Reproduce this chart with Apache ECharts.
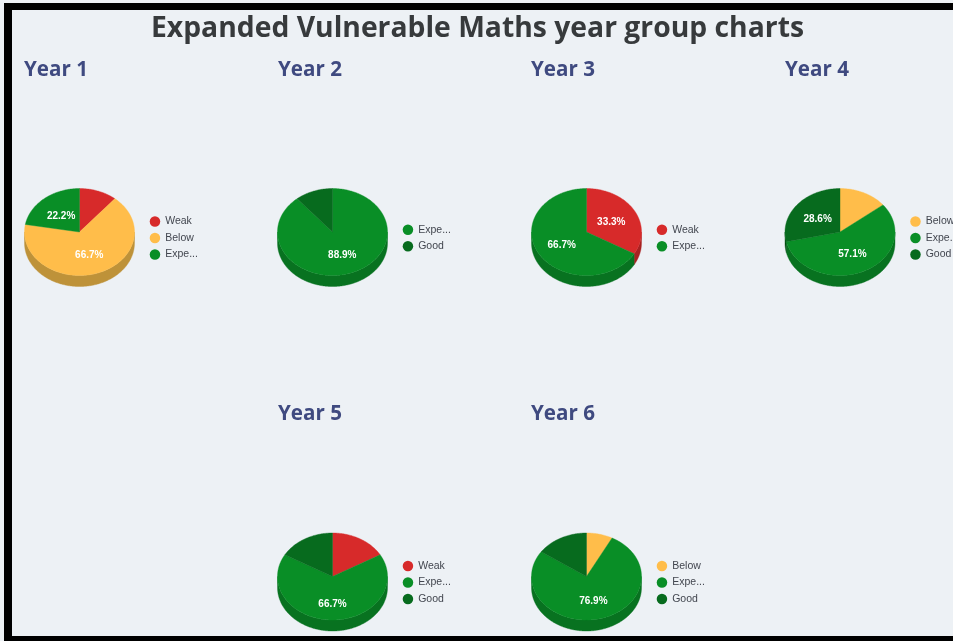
<!DOCTYPE html>
<html>
<head>
<meta charset="utf-8">
<title>Expanded Vulnerable Maths year group charts</title>
<script src="https://cdn.jsdelivr.net/npm/echarts@6/dist/echarts.min.js"></script>
<style>
html,body{margin:0;padding:0;width:953px;height:641px;overflow:hidden;background:#f4f4f4;}
#echartMain{position:absolute;left:0;top:0;width:953px;height:641px;}
#frame{position:absolute;left:4px;top:3px;width:960px;height:638px;box-sizing:border-box;
    border-style:solid;border-color:#000;border-width:7px 0 5px 8px;pointer-events:none;}
</style>
</head>
<body>
<div id="echartMain"></div>
<div id="frame"></div>
<script>
var chartTitle='Expanded Vulnerable Maths year group charts';
var years=['Year 1','Year 2','Year 3','Year 4','Year 5','Year 6'];
var levels=['Weak','Below','Expected','Good'];

// pupils per year group
var weak=[1,0,3,0,1,0];
var below=[6,0,0,1,0,1];
var expected=[2,8,6,4,4,10];
var good=[0,1,0,2,1,2];
var levelValues=[weak,below,expected,good];
var levelColors=['#D72A2A','#FFBD4A','#098E26','#076B1E'];
var wallColors=['#A82121','#BE9239','#087220','#055617'];

var minLabelPercent=20;

// where each year's pie goes
var pieCenters=[[79.5,232],[332.5,232],[586.5,232],[840,232],[332.5,576.5],[586.5,576.5]];
var headingPos=[[24,60],[278,60],[531,60],[785,60],[278,404],[531,404]];
var labelDrop=[1.5,1.5,1.5,1.5,5,2.5];
var radiusX=55,radiusY=43.5,depth=11;
var legendStep=16.5;

function yearTotal(y){
    var sum=0;
    for(var i=0;i<levelValues.length;i++){sum+=levelValues[i][y];}
    return sum;
}

function yearStart(y,level){
    var sum=0;
    for(var i=0;i<level;i++){sum+=levelValues[i][y];}
    return sum;
}

function arcPoint(c,angle,down){
    return [c[0]+radiusX*Math.sin(angle),c[1]-radiusY*Math.cos(angle)+down];
}

function makeRenderItem(level){
    return function(params,api){
        var y=api.value(0);
        var value=api.value(1);
        var total=yearTotal(y);
        var c=pieCenters[y];
        var a0=yearStart(y,level)/total*Math.PI*2;
        var a1=a0+value/total*Math.PI*2;
        var color=api.visual('color');
        var children=[];
        var steps=Math.max(2,Math.ceil((a1-a0)*60));

        var top=[c.slice()];
        for(var i=0;i<=steps;i++){
            top.push(arcPoint(c,a0+(a1-a0)*i/steps,0));
        }
        children.push({type:'polygon',z2:2,shape:{points:top},
            style:{fill:color,stroke:color,lineWidth:0.4}});

        // wall is only seen on the front half of the pie
        var w0=Math.max(a0,Math.PI/2),w1=Math.min(a1,Math.PI*1.5);
        if(w1>w0){
            var wall=[],back=[];
            for(var j=0;j<=steps;j++){
                var a=w0+(w1-w0)*j/steps;
                wall.push(arcPoint(c,a,0));
                back.unshift(arcPoint(c,a,depth));
            }
            children.push({type:'polygon',z2:1,shape:{points:wall.concat(back)},
                style:{fill:wallColors[level],stroke:wallColors[level],lineWidth:0.4}});
        }

        var percent=value/total*100;
        if(percent>=minLabelPercent){
            var mid=(a0+a1)/2;
            children.push({type:'text',z2:3,
                x:c[0]+radiusX*0.52*Math.sin(mid),
                y:c[1]-radiusY*0.52*Math.cos(mid)+labelDrop[y],
                style:{text:percent.toFixed(1)+'%',fill:'#fff',align:'center',verticalAlign:'middle',
                    font:'bold 10px "Liberation Sans", Arial, sans-serif'}});
        }
        return {type:'group',children:children};
    };
}

function buildSeries(){
    var series=[];
    levels.forEach(function(name,level){
        var rows=[];
        years.forEach(function(year,y){
            if(levelValues[level][y]>0){rows.push([y,levelValues[level][y]]);}
        });
        series.push({
            type:'custom',
            name:name,
            coordinateSystem:'none',
            silent:true,
            animation:false,
            itemStyle:{color:levelColors[level]},
            renderItem:makeRenderItem(level),
            data:rows
        });
    });
    return series;
}

function buildLegends(){
    return years.map(function(year,y){
        var names=levels.filter(function(name,level){return levelValues[level][y]>0;});
        var c=pieCenters[y];
        return {
            orient:'vertical',
            left:c[0]+70.2,
            top:c[1]+8.2-names.length*legendStep/2,
            padding:0,
            icon:'circle',
            itemWidth:10.5,
            itemHeight:10.5,
            itemGap:legendStep-12,
            selectedMode:false,
            data:names,
            textStyle:{color:'#42464f',fontSize:10.5,lineHeight:12,
                fontFamily:'"Liberation Sans", Arial, sans-serif',
                width:37,overflow:'truncate',ellipsis:'...'}
        };
    });
}

function buildTitles(){
    var titles=[{
        text:chartTitle,
        left:151,
        top:15,
        padding:0,
        textStyle:{color:'#373a3c',fontSize:28.3,fontWeight:'bold',fontFamily:'"Open Sans", sans-serif'}
    }];
    years.forEach(function(year,y){
        titles.push({
            text:year,
            left:headingPos[y][0],
            top:headingPos[y][1],
            padding:0,
            textStyle:{color:'#3f4a80',fontSize:20.6,fontWeight:'bold',fontFamily:'"Open Sans", sans-serif'}
        });
    });
    return titles;
}

var myChart=echarts.init(document.getElementById('echartMain'),null,{renderer:'canvas'});
myChart.setOption({
    backgroundColor:'#EDF1F5',
    animation:false,
    title:buildTitles(),
    legend:buildLegends(),
    series:buildSeries()
});
</script>
</body>
</html>
